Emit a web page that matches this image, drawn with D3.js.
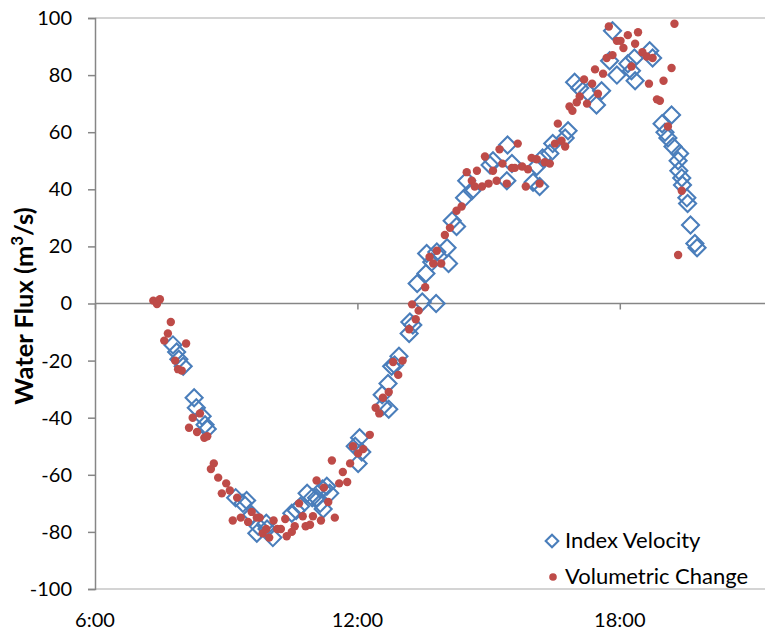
<!DOCTYPE html>
<html>
<head>
<meta charset="utf-8">
<script src="https://cdn.jsdelivr.net/npm/d3@7"></script>
<style>
  html, body { margin: 0; padding: 0; background: #fff; }
  svg { display: block; font-family: Lato, "Open Sans", sans-serif; }
</style>
</head>
<body>
<svg id="chart" width="765" height="631"></svg>
<script>
// Index velocity discharge estimates (time of day, m3/s)
const indexTimes = ["7:47","7:52","7:55","8:01","8:16","8:19","8:27","8:31","8:34",
  "9:13","9:23","9:28","9:35","9:44","9:42","9:55","9:56","10:04","10:30","10:36",
  "10:42","10:51","10:58","11:04","11:09","11:13","11:12","11:18","11:22","11:57",
  "12:01","12:06","12:03","12:35","12:43","12:34","12:42","12:47","12:51","12:57",
  "13:11","13:16","13:12","13:29","13:48","13:22","13:34","13:42","13:35","13:49",
  "14:05","14:03","14:10","14:16","14:27","14:37","14:30","15:02","15:06","15:26",
  "15:32","15:25","16:06","16:01","16:10","16:14","16:24","16:28","16:45","16:49",
  "17:28","17:50","16:58","17:05","17:16","17:35","17:46","17:56","18:11","18:16",
  "18:21","18:20","18:41","18:45","19:11","18:58","19:02","19:06","19:13","19:22",
  "19:20","19:21","19:25","19:26","19:32","19:33","19:37","19:43","19:46"];
const indexValues = [-14.5,-17,-19.5,-22,-33,-36.5,-39.5,-42.5,-44,
  -68,-70,-69,-74,-78,-80.5,-77,-79,-82,-73.5,-72.5,
  -71,-66.5,-68,-68,-70,-72,-65,-64,-66.5,-50,
  -56,-52,-47,-36,-37,-32,-28,-22,-21.5,-18.5,
  -10.5,-7.5,-6.5,0.5,0,7,10.5,14.5,17.5,18,
  14,19.5,29,27,37,39.5,43,48.5,50,55.5,
  49,43,48,42.5,41,51,52.5,56,58,60.5,
  69.5,95.5,77.5,75.5,74,74.5,85,80,84,81.5,
  78,86,88.5,86,66,63,60,58,55,52.5,
  50,46.5,44,41.5,37,35,27.5,21,19.5];

// Volumetric change discharge estimates (time of day, m3/s)
const volumeTimes = ["7:20","7:25","7:29","7:40","7:44","7:35","8:05","7:50","7:54","7:59",
  "8:09","8:14","8:20","8:24","8:30","8:34","8:43","8:39","8:49","9:00",
  "8:54","9:05","9:15","9:09","9:20","9:35","9:30","9:42","9:46","9:50",
  "9:55","9:59","10:05","10:10","10:15","10:21","10:23","10:30","10:34","10:40",
  "10:45","10:49","10:55","10:59","11:04","11:10","11:14","11:20","11:25","11:29",
  "11:35","11:40","11:46","11:50","11:54","12:01","12:08","12:17","12:25","12:30",
  "12:35","12:43","12:49","12:56","13:02","13:11","13:15","13:20","13:24","13:33",
  "13:39","13:44","13:49","13:55","14:00","14:07","14:16","14:23","14:30","14:37",
  "14:41","14:44","14:51","14:55","15:00","15:06","15:11","15:15","15:19","15:25",
  "15:32","15:36","15:40","15:46","15:54","15:51","15:59","16:06","16:10","16:17",
  "16:24","16:31","16:35","16:40","16:45","16:51","16:55","17:01","17:05","17:11",
  "17:15","17:22","17:26","17:30","17:37","17:42","17:45","17:50","17:56","18:01",
  "18:05","18:11","18:16","18:21","18:25","18:31","18:37","18:40","18:45","18:51",
  "18:55","19:00","19:06","19:11","19:15","19:25","19:20"];
const volumeValues = [1,-0.2,1.5,-10.5,-6.5,-13,-14,-20,-23,-23.5,
  -43.5,-40,-45,-38.5,-47,-46.5,-56,-58,-61,-63,
  -66.5,-65.5,-68,-76,-75,-73,-76.5,-75,-75,-80.5,
  -79,-82,-76,-79,-79,-75.5,-81.5,-80,-78,-70,
  -74.5,-78,-77.5,-74.5,-62,-76,-64.5,-69.5,-55,-75,
  -63,-59,-62.5,-56,-50,-52.5,-51,-46,-36.5,-38.5,
  -33,-31,-20.5,-25,-20,-9,-0.3,-5.5,-2.5,5.7,
  16.3,14,18.5,14,24,26.5,32.5,34,46,43,
  41,46.5,41,51.5,42,46.5,43,54,49,42,
  47.5,47.5,56,48,47,41,51,50.5,42,49.5,
  49,56,63,57,55,69,67.5,70.5,72.5,78.5,
  70,77,82,73.5,80.5,86,97,87,92,92,
  89.5,94,83,91,95,88,86.5,77,86,71.5,
  71,78,62,82.5,98,39.5,17];

const xTickLabels = ["6:00", "12:00", "18:00"];
const yTickValues = [-100, -80, -60, -40, -20, 0, 20, 40, 60, 80, 100];
const seriesNames = ["Index Velocity", "Volumetric Change"];

const toMinutes = s => { const [h, m] = s.split(":").map(Number); return h * 60 + m; };

const indexData = indexTimes.map((t, i) => ({ t: toMinutes(t), v: indexValues[i] }));
const volumeData = volumeTimes.map((t, i) => ({ t: toMinutes(t), v: volumeValues[i] }));

const svg = d3.select("#chart");
const plotLeft = 95, plotTop = 18, plotBottom = 589, plotRight = 765;

// the time axis runs 6:00 to 24:00; only the part up to the window edge is visible
const x = d3.scaleLinear().domain([6 * 60, 24 * 60]).range([plotLeft, plotLeft + 3 * 262.4]);
const y = d3.scaleLinear().domain([-100, 100]).range([plotBottom, plotTop]);

const blue = "#4a7ebb", red = "#be4b48";

// plot area frame lines (top and bottom)
[100, -100].forEach(v => {
  svg.append("line").attr("x1", plotLeft).attr("x2", plotRight).attr("y1", y(v)).attr("y2", y(v))
    .attr("stroke", "#c6c6c6").attr("stroke-width", 1.5);
});

// y axis
const yAxis = d3.axisLeft(y).tickValues(yTickValues).tickSize(7).tickPadding(16)
  .tickFormat(d => String(d));
const gy = svg.append("g").attr("transform", `translate(${plotLeft},0)`).call(yAxis);
gy.select(".domain").attr("stroke", "#868686").attr("stroke-width", 1.5);
gy.selectAll(".tick line").attr("stroke", "#868686").attr("stroke-width", 1.5);
gy.selectAll(".tick text").attr("font-family", "Lato, sans-serif").attr("font-size", 20)
  .attr("fill", "#000");

// x axis along the zero line; labels placed below the plot
const xTickVals = xTickLabels.map(toMinutes);
const xAxis = d3.axisBottom(x).tickValues(xTickVals).tickSize(6).tickFormat(() => "");
const gx = svg.append("g").attr("transform", `translate(0,${y(0)})`).call(xAxis);
gx.select(".domain").attr("d", `M${plotLeft},0H${plotRight}`).attr("stroke", "#868686").attr("stroke-width", 1.5);
gx.selectAll(".tick line").attr("stroke", "#868686").attr("stroke-width", 1.5);

svg.append("g").selectAll("text").data(xTickLabels).join("text")
  .attr("x", d => x(toMinutes(d))).attr("y", 627)
  .attr("text-anchor", "middle").attr("font-size", 20).attr("fill", "#000")
  .text(d => d);

// axis title
svg.append("text")
  .attr("transform", "translate(33,306) rotate(-90)")
  .attr("text-anchor", "middle").attr("font-size", 25.5).attr("font-weight", "bold")
  .attr("fill", "#000")
  .html('Water Flux (m<tspan baseline-shift="super" font-size="17">3</tspan>/s)');

// diamond symbol
const diamond = d3.symbol().type(d3.symbolSquare).size(145);

// index velocity: hollow diamonds
svg.append("g").selectAll("path").data(indexData).join("path")
  .attr("d", diamond)
  .attr("transform", d => `translate(${x(d.t)},${y(d.v)}) rotate(45)`)
  .attr("fill", "none").attr("stroke", blue).attr("stroke-width", 2.1);

// volumetric change: filled dots
svg.append("g").selectAll("circle").data(volumeData).join("circle")
  .attr("cx", d => x(d.t)).attr("cy", d => y(d.v)).attr("r", 4.2)
  .attr("fill", red);

// legend
const legend = svg.append("g");
legend.append("path").attr("d", d3.symbol().type(d3.symbolSquare).size(80))
  .attr("transform", "translate(552,541) rotate(45)")
  .attr("fill", "none").attr("stroke", blue).attr("stroke-width", 2.1);
legend.append("circle").attr("cx", 553).attr("cy", 577).attr("r", 3.8).attr("fill", red);
legend.selectAll("text").data(seriesNames).join("text")
  .attr("x", 565).attr("y", (d, i) => 548 + i * 36)
  .attr("font-size", 22).attr("fill", "#000").text(d => d);
</script>
</body>
</html>
